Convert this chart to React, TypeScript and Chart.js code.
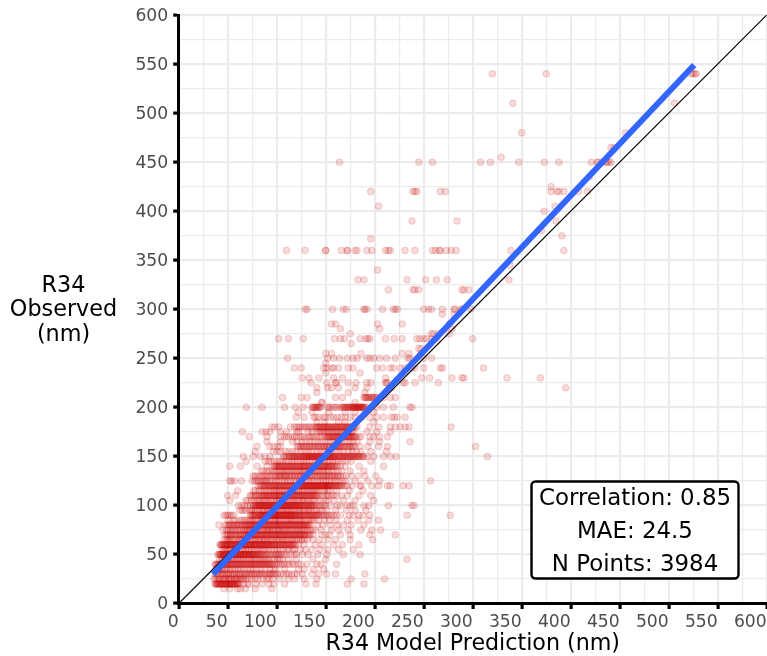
import React, { useEffect, useRef } from "react";
import { Chart, registerables } from "chart.js";

Chart.register(...registerables);

const xTitle = "R34 Model Prediction (nm)";
const yTitleLines = ["R34", "Observed", "(nm)"];
const statLines = ["Correlation: 0.85", "MAE: 24.5", "N Points: 3984"];
const identityXY = [0, 600];
const fitX = [35, 526];
const fitY = [30, 549];

const p15 = [46, 52, 60, 63, 68, 78, 95];
const p20 = [37, 38, 39, 40, 41, 42, 43, 44, 45, 46, 47, 48, 49, 50, 51, 52, 53, 54, 55, 56, 57, 58, 59, 60, 62, 66, 70, 72, 79, 85, 92, 97, 108, 130, 140, 172, 189];
const p25 = [36, 39.4, 42, 45.7, 48, 51.2, 54, 57.6, 60, 63.3, 66, 70.8, 74, 78, 80.5, 86, 90, 92, 96, 103, 112, 118, 128, 141, 176, 210];
const p30 = [37, 39, 41, 43, 45, 47, 49, 51, 53, 55, 57, 59, 61, 63, 65, 67, 69, 71, 74, 77, 80, 83, 85, 88, 92, 94, 96, 99, 104, 112, 118, 121, 126, 136, 143, 151, 160, 190];
const p35 = [38, 41, 44, 48, 53, 58, 63, 70, 76, 84, 93, 99, 108, 122, 128, 138, 148];
const p40 = [37, 38, 40, 41, 42, 44, 45, 46, 48, 49, 50, 52, 53, 54, 55, 56, 58, 59, 60, 61, 62, 64, 65, 66, 68, 70, 72, 74, 75, 77, 78, 80, 82, 84, 86, 88, 90, 92, 94, 96, 100, 104, 108, 111, 118, 125, 131, 141, 145, 161];
const p45 = [42, 45, 47, 50, 54, 57, 60, 64, 68, 72, 76, 80, 84, 88, 92, 98, 103, 112, 120, 137, 150, 233];
const p50 = [40, 41, 42, 43, 44, 45, 46, 47, 48, 49, 50, 51, 52, 53, 54, 55, 56, 57, 58, 59, 60, 61, 62, 63, 64, 65, 66, 67, 68, 69, 70, 71, 72, 73, 74, 75, 76, 79, 82, 84, 87, 91, 95, 99, 102, 105, 120, 126, 132, 142, 151, 168, 185];
const p55 = [44.3, 47.8, 51, 56.2, 59, 64.5, 68, 71.7, 77.4, 81, 86.6, 91, 97.3, 104, 111, 116.5, 124, 129.6, 136, 144, 152, 163, 178];
const p60 = [42, 43, 44, 45, 46, 47, 48, 49, 50, 51, 52, 53, 54, 55, 56, 57, 58, 59, 60, 61, 62, 63, 64, 65, 66, 67, 68, 69, 70, 71, 72, 73, 74, 75, 76, 77, 78, 79, 80, 81, 82, 83, 84, 85, 86, 87, 88, 89, 90, 91, 92, 93, 94, 95, 96, 98, 100, 102, 104, 106, 108, 110, 112, 114, 116, 119, 122, 128, 139, 146, 158, 167, 184];
const p65 = [46.4, 50.1, 52.8, 56, 61.3, 63.2, 67.7, 70.4, 75.9, 78.3, 82, 85.8, 88.2, 92.6, 95, 99.7, 103, 106.5, 110.2, 114.9, 118, 122.4, 126, 131.6, 137, 143.5, 152, 160, 175, 198];
const p70 = [47, 49, 51, 53, 55, 57, 59, 61, 63, 65, 67, 69, 70, 72, 73, 75, 76, 78, 79, 81, 82, 84, 85, 87, 88, 90, 92, 93, 95, 96, 98, 100, 102, 104, 105, 107, 109, 111, 113, 115, 118, 120, 123, 126, 129, 133, 137, 146, 150, 154, 165, 175, 195, 221];
const p75 = [45.2, 48.6, 52.9, 56, 60.7, 64, 68.3, 70.5, 73.1, 77.8, 80, 84.4, 87, 90.6, 93.2, 96, 100.9, 103.3, 107, 110.7, 114, 118.5, 121, 125.8, 129, 134.4, 139, 145.6, 156, 163.2, 173, 186, 197, 206];
const p80 = [41, 47, 49, 51, 53, 55, 57, 59, 61, 63, 65, 67, 69, 71, 72, 74, 75, 77, 78, 80, 81, 83, 84, 86, 87, 89, 90, 92, 93, 95, 96, 98, 99, 101, 102, 104, 105, 107, 108, 110, 112, 114, 116, 118, 120, 122, 124, 126, 128, 130, 132, 134, 142, 147, 155, 162, 168, 176, 189];
const p85 = [50.7, 56, 62.4, 67, 71.6, 75, 79.2, 83.8, 86, 89.5, 93, 97.6, 100.1, 104, 108.7, 112, 115.3, 119, 123.8, 127, 132.2, 136, 142.7, 149, 154, 160.5, 172, 183, 194, 204];
const p90 = [46, 48, 50, 52, 54, 56, 73, 75, 76, 78, 79, 81, 82, 83, 84, 85, 86, 87, 88, 89, 90, 91, 92, 93, 94, 95, 96, 97, 98, 99, 100, 101, 102, 103, 104, 105, 106, 107, 108, 109, 110, 111, 112, 113, 114, 115, 116, 117, 118, 119, 120, 122, 124, 126, 128, 130, 132, 134, 136, 138, 140, 142, 145, 148, 152, 156, 161, 165, 174, 178, 184, 188, 195, 233, 277];
const p95 = [62.4, 67, 72.8, 76, 80.3, 84.9, 88, 91.6, 95, 99.2, 103.7, 106, 110.5, 113, 117.1, 121.8, 125, 129.4, 133, 138.6, 144, 151, 160.3, 171, 180, 191];
const p100 = [61, 64, 67, 70, 73, 76, 78, 79, 80, 81, 82, 83, 84, 85, 86, 87, 88, 89, 90, 91, 92, 93, 94, 95, 96, 97, 98, 99, 100, 101, 102, 103, 104, 105, 106, 107, 108, 109, 110, 111, 112, 113, 114, 115, 116, 117, 118, 119, 120, 121, 122, 123, 124, 126, 128, 130, 132, 134, 136, 138, 148, 155, 162, 165, 172, 175, 178, 189, 194, 214, 238, 240];
const p105 = [52, 68.4, 74, 79.7, 83, 87.5, 91.2, 95, 99.8, 103, 107.4, 111, 115.9, 119, 123.3, 127, 131.6, 136, 142.2, 150, 158.7, 168, 180, 199];
const p110 = [50, 58, 73, 76, 79, 82, 85, 87, 89, 91, 93, 95, 97, 99, 101, 103, 105, 107, 109, 111, 113, 115, 117, 119, 121, 123, 125, 127, 129, 131, 133, 135, 137, 139, 141, 146, 151, 156, 161, 166, 172, 184, 196];
const p115 = [60, 76.6, 82, 87.3, 92, 96.8, 100, 104.5, 108, 112.2, 116, 120.7, 124, 128.4, 132, 136.9, 140, 146.3, 152, 161, 174, 188];
const p120 = [81, 83, 85, 87, 88, 90, 91, 93, 94, 96, 97, 99, 100, 102, 103, 105, 106, 108, 109, 111, 112, 114, 115, 117, 118, 120, 121, 123, 124, 126, 127, 128, 129, 130, 131, 132, 133, 134, 135, 136, 137, 138, 139, 140, 141, 142, 143, 144, 145, 146, 147, 148, 149, 150, 151, 152, 153, 154, 155, 156, 158, 160, 162, 164, 166, 168, 170, 172, 177, 185, 186, 197, 204, 213, 216, 229, 235];
const p125 = [52, 54, 57, 64, 75, 79.4, 83, 87.6, 90, 96.2, 102, 108.7, 114, 120.3, 126, 132.5, 138, 144.8, 150, 156.1, 163, 170, 180, 193, 205, 257];
const p130 = [76, 80, 85, 89, 93, 97, 100, 103, 105, 108, 110, 113, 116, 119, 122, 125, 128, 131, 134, 137, 141, 144, 147, 150, 153, 156, 159, 162, 165, 171, 176, 183, 190, 201];
const p135 = [84.5, 90, 95.3, 100, 104.8, 108, 112.4, 116, 120.6, 124, 128.1, 132, 136.7, 140, 144.2, 148, 152.9, 158, 166.3, 175, 189];
const p140 = [52, 63, 80, 90, 97, 99, 101, 103, 105, 107, 109, 111, 113, 115, 117, 119, 121, 123, 125, 127, 129, 131, 133, 135, 137, 139, 141, 143, 145, 147, 149, 151, 153, 155, 157, 159, 161, 165, 170, 184, 209];
const p145 = [69, 88.3, 94, 100.7, 106, 112.2, 118, 124.9, 130, 136.4, 142, 148.6, 154, 160.1, 167, 176, 196];
const p150 = [66, 76, 83, 88, 93, 107, 110, 113, 115, 117, 119, 120, 122, 123, 125, 126, 128, 129, 130, 131, 132, 133, 134, 135, 136, 137, 138, 139, 140, 141, 142, 143, 144, 145, 146, 147, 148, 149, 150, 151, 152, 153, 154, 155, 156, 157, 158, 159, 160, 162, 164, 166, 168, 170, 172, 174, 176, 178, 180, 182, 184, 187, 189, 192, 199, 209, 216, 222, 315];
const p155 = [78, 96.6, 104, 112.3, 120, 128.8, 136, 144.4, 152, 160.7, 168, 177.2, 186, 196, 212];
const p160 = [80, 93, 97, 101, 104, 121, 124, 127, 130, 133, 136, 139, 142, 145, 148, 151, 154, 157, 159, 161, 163, 165, 168, 171, 174, 177, 180, 185, 193, 204, 213, 303];
const p165 = [90, 104, 116, 126, 134, 142, 150, 158, 166, 174, 182, 195, 205, 236];
const p170 = [72, 90, 104, 108, 112, 116, 120, 124, 128, 132, 136, 141, 146, 151, 153, 155, 157, 159, 161, 163, 165, 167, 169, 171, 173, 175, 177, 179, 181, 186, 195, 199, 205, 213];
const p175 = [65, 85, 89, 93, 104, 110, 122, 132, 141, 145, 149, 153, 157, 161, 165, 169, 173, 176, 178, 192, 202, 216];
const p180 = [95, 98, 102, 114, 118, 122, 126, 130, 134, 138, 141, 143, 145, 147, 149, 151, 153, 155, 157, 159, 161, 163, 165, 167, 169, 171, 173, 175, 177, 179, 182, 195, 204, 216, 221, 226, 231, 235, 278];
const p185 = [141, 149, 163, 170, 199];
const p190 = [120, 128, 138, 143, 150, 158, 166, 175, 187, 195, 202, 209, 217, 220, 223, 231];
const p195 = [122, 136, 153, 170, 180, 199];
const p200 = [69, 85, 108, 119, 127, 136, 138, 140, 141, 143, 145, 153, 160, 167, 169, 171, 173, 175, 177, 178, 179, 180, 181, 182, 183, 184, 185, 186, 187, 188, 190, 192, 202, 209, 219, 236, 238];
const p205 = [146, 146, 180];
const p210 = [106, 125, 131, 160, 167, 189, 191, 193, 196, 198, 199, 202, 205, 209, 216, 221];
const p215 = [173, 141, 190];
const p220 = [141, 152, 156, 163, 192, 180, 217, 395];
const p225 = [135, 151, 160, 161, 173, 181, 192, 196, 211, 213, 229, 231, 241, 265, 212];
const p230 = [126, 133, 143, 158, 167, 211, 248, 256, 279, 289, 291, 335, 369];
const p235 = [150, 185];
const p240 = [118, 125, 148, 151, 156, 158, 163, 173, 178, 202, 208, 216, 219, 226, 231, 238, 241, 250, 267, 269, 311];
const p245 = [150];
const p250 = [111, 152, 158, 164, 172, 178, 182, 192, 195, 199, 205, 212, 221, 234, 236, 250, 258];
const p255 = [150, 156, 186, 228, 235, 247];
const p260 = [245, 247];
const p265 = [176];
const p270 = [102, 112, 127, 159, 165, 169, 185, 191, 193, 195, 211, 220, 228, 243, 246, 250, 253, 258, 263, 300];
const p275 = [175, 258, 260, 265, 276];
const p280 = [205, 165, 279];
const p285 = [156, 160, 203, 228, 276];
const p295 = [269, 281];
const p300 = [129, 131, 157, 168, 171, 189, 190, 192, 208, 219, 221, 223, 250, 255, 258, 269, 281, 282, 288, 289, 298];
const p320 = [214, 239, 241, 245, 289, 291, 296];
const p330 = [183, 189, 233, 252, 263, 274, 337];
const p340 = [203];
const p345 = [338];
const p360 = [110, 129, 150, 150, 166, 172, 172, 180, 182, 192, 197, 211, 214, 216, 231, 241, 259, 262, 266, 267, 273, 278, 283, 339, 393];
const p372 = [196];
const p375 = [391];
const p380 = [370];
const p390 = [238, 284, 385];
const p400 = [373];
const p405 = [204, 384];
const p420 = [196, 239, 241, 243, 267, 272, 380, 386, 388, 393, 408, 417];
const p425 = [380];
const p435 = [419];
const p450 = [164, 245, 259, 308, 318, 347, 373, 388, 421, 427, 428, 432, 436, 437, 439, 441];
const p455 = [329];
const p465 = [441, 444];
const p480 = [350, 456];
const p510 = [341, 506];
const p540 = [320, 375, 523, 525, 527, 528];

// second pass over the dense part of the cloud
const d20 = [38.5, 40.5, 42.5, 44.5, 46.5, 48.5, 50.5, 52.5, 54.5, 56.5, 58.5, 61];
const d25 = [37.3, 41.2, 44.6, 47.1, 50.8, 53.3, 56.9, 59.2, 62.7, 65.1, 68.4];
const d30 = [38.5, 44.5, 50.5, 56.5, 62.5, 68.5, 72.5, 75.5, 79, 82, 86, 90, 93, 97, 101, 107, 110, 115];
const d35 = [40.2, 43.6, 46.1, 50.7, 55.3, 60.9, 66.4, 73.2, 79.8, 88.1, 96.5];
const d40 = [39, 43, 47, 51, 57, 63, 67, 69, 71, 73, 76, 79, 81, 83, 85, 87, 89, 91, 93, 95, 98, 102, 106, 113, 116, 122];
const d45 = [44.1, 49.6, 52.3, 55.8, 59.4, 62.7, 66.2, 70.9, 74.3, 78.6, 82.2, 86.7, 90.1, 95.4, 100.8, 106.3];
const d50 = [42.5, 45.5, 48.5, 51.5, 54.5, 57.5, 60.5, 63.5, 66.5, 69.5, 72.5, 75.5, 77, 78, 80, 81, 83, 85, 88, 90, 93, 97, 100, 103, 107, 110, 114, 118];
const d55 = [46.6, 49.2, 53.7, 57.3, 61.8, 65.1, 70.6, 74.2, 79.9, 83.4, 88.1, 94.7, 100.3, 106.8, 112.2, 118.6];
const d60 = [43.5, 46.5, 49.5, 52.5, 55.5, 58.5, 61.5, 64.5, 67.5, 70.5, 73.5, 76.5, 79.5, 82.5, 85.5, 88.5, 91.5, 94.5, 97, 99, 101, 103, 105, 107, 109, 111, 113, 115, 117, 118];
const d65 = [48.7, 51.2, 54.9, 58.3, 62.6, 65.1, 69.8, 73.3, 77.5, 80.9, 84.2, 87.6, 90.3, 94.8, 97.1, 101.4, 105.9, 108.2, 112.7, 116.1, 120.5, 124.8, 128.3];
const d70 = [50, 54, 58, 62, 66, 68, 71, 74, 77, 80, 83, 86, 89, 91, 94, 97, 99, 101, 103, 106, 108, 110, 112, 114, 116, 117, 119, 121, 122, 124, 125, 127, 128, 130, 132, 134];
const d75 = [50.4, 54.8, 58.1, 62.7, 66.3, 69.9, 72.2, 75.6, 79.1, 82.7, 86.4, 89.8, 92.1, 95.5, 98.9, 102.3, 105.7, 109.1, 112.6, 116.2, 120.8, 123.4, 127.9, 131.3, 136.5];
const d80 = [52, 56, 60, 64, 68, 70, 73, 76, 79, 82, 85, 88, 91, 94, 97, 100, 103, 106, 109, 111, 113, 115, 117, 119, 121, 123, 125, 127, 129, 131, 133];
const d85 = [58.2, 64.9, 69.3, 73.7, 77.1, 81.6, 85.2, 88.8, 91.3, 95.7, 99.1, 102.5, 106.9, 110.3, 114.6, 117.2, 121.7, 125.1, 129.5, 134.8, 138.3];
const d90 = [74, 77, 80, 83, 85, 87, 89, 91, 93, 95, 97, 99, 101, 103, 105, 107, 109, 111, 113, 115, 117, 119, 121, 123, 125, 127, 129, 131, 133, 135, 137, 139, 141, 143, 146, 150, 154, 158];
const d95 = [64.8, 69.1, 74.5, 78.2, 82.7, 86.3, 90.9, 93.4, 97.6, 101.1, 105.8, 108.3, 112.7, 115.2, 119.6, 123.1, 127.5, 131.9, 135.2, 140.7, 146.4];
const d100 = [77, 80, 83, 86, 89, 92, 95, 98, 101, 104, 107, 110, 113, 116, 119, 122, 125, 127, 129, 131, 133, 135, 137, 139, 141, 144, 146, 150];
const d105 = [70.3, 76.8, 81.2, 85.7, 89.1, 93.5, 97.9, 101.2, 105.6, 109.3, 113.8, 117.1, 121.4, 125.9, 129.2, 133.6, 138.1, 144.7, 152.3];
const d110 = [74, 78, 81, 84, 86, 88, 90, 92, 94, 96, 98, 100, 102, 104, 106, 108, 110, 112, 114, 116, 118, 120, 122, 124, 126, 128, 130, 132, 134, 136, 138, 140, 143, 148, 153, 158];
const d115 = [78.4, 84.8, 89.2, 94.6, 98.1, 102.7, 106.3, 110.9, 114.2, 118.6, 122.1, 126.5, 130.9, 134.3, 138.7, 142.2, 148.8, 154.4];
const d120 = [84, 88, 92, 95, 98, 101, 104, 107, 110, 113, 116, 119, 122, 125, 127, 129, 131, 133, 135, 137, 139, 141, 143, 145, 147, 149, 151, 153, 155, 157, 159, 161, 163, 165];
const d125 = [77.6, 81.2, 85.9, 89.3, 93.7, 99.1, 105.6, 111.2, 117.8, 123.3, 129.7, 135.1, 141.6, 147.2, 153.9, 159.4, 166.8];
const d130 = [78, 83, 87, 91, 95, 99, 102, 104, 107, 109, 112, 115, 118, 121, 124, 127, 130, 133, 136, 139, 142, 145, 148, 151, 154, 157, 160, 163, 168];
const d135 = [86.3, 92.7, 97.2, 102.8, 106.4, 110.1, 114.6, 118.2, 122.9, 126.3, 130.7, 134.2, 138.8, 142.1, 146.5, 150.3, 155.9, 162.4];
const d140 = [98, 100, 102, 104, 106, 108, 110, 112, 114, 116, 118, 120, 122, 124, 126, 128, 130, 132, 134, 136, 138, 140, 142, 144, 146, 148, 150, 152, 154, 156, 158, 162];
const d145 = [91.6, 97.2, 103.8, 109.3, 115.7, 121.1, 127.6, 133.2, 139.9, 145.4, 151.8, 157.3, 163.1, 170.6];
const d150 = [108, 111, 114, 116, 118, 121, 124, 127, 130, 133, 136, 139, 142, 145, 148, 151, 154, 157, 160, 163, 165, 167, 169, 171, 173, 175, 177, 179, 181, 183, 185, 188];
const d155 = [100.4, 108.9, 116.2, 124.7, 132.3, 140.8, 148.1, 156.6, 164.2, 172.9, 181.3];
const d160 = [122, 125, 128, 131, 134, 137, 140, 143, 146, 149, 152, 155, 158, 160, 162, 164, 166, 169, 172, 175, 178];
const d165 = [120.7, 130.2, 138.6, 146.1, 154.8, 162.3, 170.7, 178.2];
const d170 = [110, 118, 126, 134, 138, 144, 149, 152, 154, 156, 158, 160, 162, 164, 166, 168, 170, 172, 174, 176, 178, 180, 184];
const d175 = [120.6, 136.1, 143.7, 147.2, 151.8, 155.3, 159.9, 163.2, 167.7, 171.1, 175.6];
const d180 = [120, 124, 128, 132, 136, 140, 142, 144, 146, 148, 150, 152, 154, 156, 158, 160, 162, 164, 166, 168, 170, 172, 174, 176, 178, 180];
const d190 = [140, 148, 155, 162, 170, 180];
const d200 = [137, 139, 142, 144, 152, 155, 158, 162, 165, 168, 170, 172, 174, 176, 178, 180, 182, 184, 186, 188, 189];
const d210 = [190, 192, 194, 197, 200];

const observedRows: [number, number[]][] = [
  [15, p15], [20, p20], [25, p25], [30, p30], [35, p35], [40, p40], [45, p45], [50, p50], [55, p55], [60, p60],
  [65, p65], [70, p70], [75, p75], [80, p80], [85, p85], [90, p90], [95, p95], [100, p100], [105, p105], [110, p110],
  [115, p115], [120, p120], [125, p125], [130, p130], [135, p135], [140, p140], [145, p145], [150, p150], [155, p155],
  [160, p160], [165, p165], [170, p170], [175, p175], [180, p180], [185, p185], [190, p190], [195, p195], [200, p200],
  [205, p205], [210, p210], [215, p215], [220, p220], [225, p225], [230, p230], [235, p235], [240, p240], [245, p245],
  [250, p250], [255, p255], [260, p260], [265, p265], [270, p270], [275, p275], [280, p280], [285, p285], [295, p295],
  [300, p300], [320, p320], [330, p330], [340, p340], [345, p345], [360, p360], [372, p372], [375, p375], [380, p380],
  [390, p390], [400, p400], [405, p405], [420, p420], [425, p425], [435, p435], [450, p450], [455, p455], [465, p465],
  [480, p480], [510, p510], [540, p540],
  [20, d20], [25, d25], [30, d30], [35, d35], [40, d40], [45, d45], [50, d50], [55, d55], [60, d60], [65, d65],
  [70, d70], [75, d75], [80, d80], [85, d85], [90, d90], [95, d95], [100, d100], [105, d105], [110, d110], [115, d115],
  [120, d120], [125, d125], [130, d130], [135, d135], [140, d140], [145, d145], [150, d150], [155, d155], [160, d160],
  [165, d165], [170, d170], [175, d175], [180, d180], [190, d190], [200, d200], [210, d210],
];

const FONT = '"DejaVu Sans", sans-serif';

const textPlugin = {
  id: "chartText",
  afterDraw(chart: any) {
    const c = chart.ctx as CanvasRenderingContext2D;
    c.save();
    c.fillStyle = "#000";
    c.textAlign = "center";
    c.textBaseline = "middle";
    c.font = `22.3px ${FONT}`;
    yTitleLines.forEach((t, i) => c.fillText(t, 63.5, 286 + i * 24.5));
    c.beginPath();
    c.roundRect(531.5, 481.5, 207, 97, 4);
    c.fillStyle = "#fff";
    c.fill();
    c.lineWidth = 2.4;
    c.strokeStyle = "#000";
    c.stroke();
    c.fillStyle = "#000";
    c.font = `22.9px ${FONT}`;
    statLines.forEach((t, i) => c.fillText(t, 635, 499 + i * 33.2));
    c.restore();
  },
};

const major = (v: number) => v % 50 === 0;

function axis(extra: any) {
  return {
    type: "linear",
    min: 0,
    max: 600,
    border: { display: true, color: "#000", width: 3, z: 1 },
    grid: {
      color: "#ebebeb",
      lineWidth: (c: any) => (major(c.tick.value) ? 2.2 : 1.2),
      drawTicks: true,
      tickLength: 5.5,
      tickColor: "#000",
      tickWidth: (c: any) => (major(c.tick.value) ? 3.2 : 0),
    },
    ...extra,
  };
}

function tickOpts(extra: any) {
  return {
    stepSize: 25,
    autoSkip: false,
    maxRotation: 0,
    minRotation: 0,
    color: "#4d4d4d",
    font: { family: FONT, size: 17.2 },
    callback: (v: any) => (major(Number(v)) ? String(v) : ""),
    ...extra,
  };
}

export default function App() {
  const ref = useRef<HTMLCanvasElement>(null);
  useEffect(() => {
    const points = observedRows.flatMap(([y, xs]) => xs.map((x) => ({ x, y })));
    const chart = new Chart(ref.current as HTMLCanvasElement, {
      type: "scatter",
      data: {
        datasets: [
          {
            label: "Points",
            data: points,
            order: 3,
            pointRadius: 3.2,
            pointBorderWidth: 1.1,
            pointBackgroundColor: "rgba(204,0,0,0.14)",
            pointBorderColor: "rgba(204,0,0,0.17)",
          },
          {
            label: "Identity",
            data: identityXY.map((v) => ({ x: v, y: v })),
            order: 2,
            showLine: true,
            pointRadius: 0,
            borderColor: "#000",
            borderWidth: 1.1,
          },
          {
            label: "Fit",
            data: fitX.map((x, i) => ({ x, y: fitY[i] })),
            order: 1,
            showLine: true,
            pointRadius: 0,
            borderColor: "#3366ff",
            borderWidth: 6,
            borderCapStyle: "butt",
          },
        ],
      } as any,
      options: {
        responsive: false,
        animation: false,
        events: [],
        layout: { autoPadding: false, padding: { top: 15, right: 0.3, left: 0, bottom: 0 } },
        plugins: { legend: { display: false }, tooltip: { enabled: false }, title: { display: false } },
        scales: {
          x: axis({
            afterFit: (s: any) => {
              s.height = 52.5;
              s.paddingLeft = 0;
              s.paddingRight = 0;
            },
            ticks: tickOpts({ align: "end", padding: 3 }),
            title: {
              display: true,
              text: xTitle,
              color: "#000",
              font: { family: FONT, size: 22.2, lineHeight: 1.05 },
              padding: { top: 2, bottom: 0 },
            },
          }),
          y: axis({
            afterFit: (s: any) => {
              s.width = 178.7;
              s.paddingTop = 0;
              s.paddingBottom = 0;
            },
            ticks: tickOpts({ padding: 5, labelOffset: 1.5 }),
          }),
        },
      } as any,
      plugins: [textPlugin],
    });
    return () => chart.destroy();
  }, []);
  return (
    <canvas
      ref={ref}
      width={767}
      height={656}
      style={{ position: "fixed", left: 0, top: 0, width: 767, height: 656, display: "block", background: "#fff" }}
    />
  );
}
